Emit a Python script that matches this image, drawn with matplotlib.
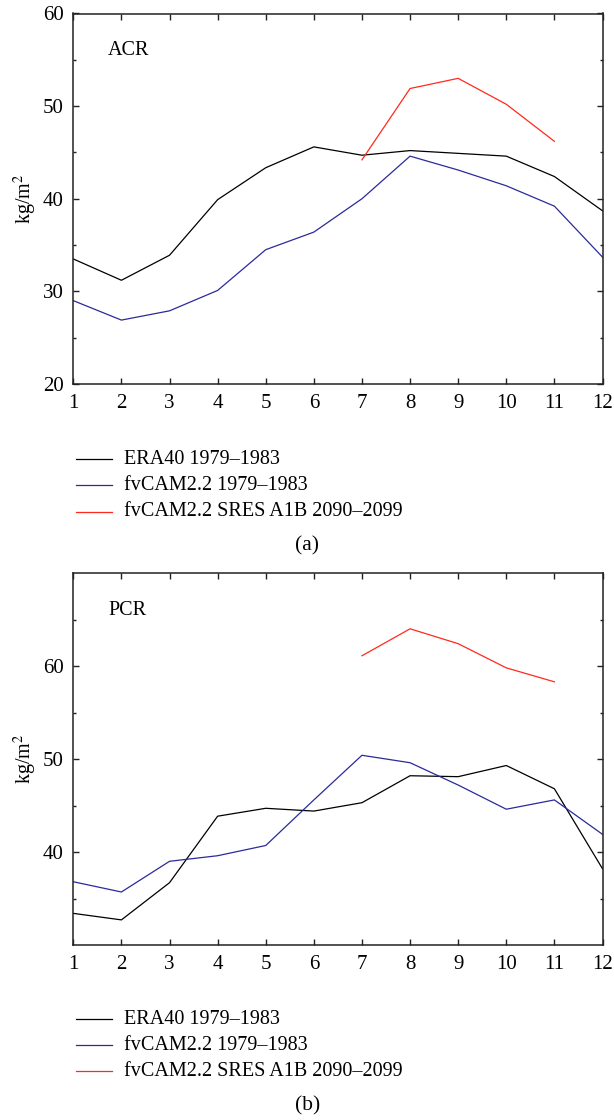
import matplotlib
matplotlib.use("Agg")
import matplotlib.pyplot as plt
from matplotlib.lines import Line2D

months = list(range(1, 13))
tick_labels = [str(m) for m in months]

acr_era40 = [33.5, 31.2, 33.9, 39.9, 43.35, 45.6, 44.7, 45.2, 44.9, 44.6, 42.4, 38.7]
acr_fvcam = [29.0, 26.9, 27.9, 30.1, 34.5, 36.4, 40.0, 44.6, 43.1, 41.4, 39.2, 33.7]
acr_sres_months = [7, 8, 9, 10, 11]
acr_sres = [44.2, 51.9, 53.0, 50.2, 46.2]

pcr_era40 = [33.4, 32.7, 36.7, 43.85, 44.7, 44.4, 45.3, 48.2, 48.1, 49.3, 46.8, 38.2]
pcr_fvcam = [36.8, 35.7, 39.0, 39.6, 40.7, 45.6, 50.4, 49.6, 47.2, 44.6, 45.6, 41.9]
pcr_sres_months = [7, 8, 9, 10, 11]
pcr_sres = [61.1, 64.0, 62.4, 59.8, 58.3]

series_names = ["ERA40 1979\u20131983", "fvCAM2.2 1979\u20131983",
                "fvCAM2.2 SRES A1B 2090\u20132099"]
colors = ["#000000", "#2a2a9c", "#ff2a1a"]

plt.rcParams['font.family'] = ['Liberation Serif', 'DejaVu Serif']
plt.rcParams['mathtext.fontset'] = 'stix'

fig = plt.figure(figsize=(6.14, 11.2), dpi=100)

W, H = 614, 1120
def axrect(l, r, t, b):
    return [l / W, 1 - b / H, (r - l) / W, (b - t) / H]

panels = [
    dict(rect=axrect(73.3, 602.5, 13.5, 384), era=acr_era40, fv=acr_fvcam,
         sm=acr_sres_months, sr=acr_sres, ylim=(20, 60), major=[20, 30, 40, 50, 60],
         minor=[25, 35, 45, 55], name="ACR", leg_y=[459, 485, 512], cap="(a)", cap_y=546),
    dict(rect=axrect(73.3, 602.5, 573, 945), era=pcr_era40, fv=pcr_fvcam,
         sm=pcr_sres_months, sr=pcr_sres, ylim=(30, 70), major=[40, 50, 60],
         minor=[35, 45, 55, 65], name="PCR", leg_y=[1019, 1045, 1071], cap="(b)", cap_y=1106),
]

for p in panels:
    ax = fig.add_axes(p["rect"])
    ax.plot(months, p["era"], color=colors[0], lw=0.9)
    ax.plot(months, p["fv"], color=colors[1], lw=0.9)
    ax.plot(p["sm"], p["sr"], color=colors[2], lw=0.9)
    ax.set_xlim(1, 12)
    ax.set_ylim(*p["ylim"])
    ax.set_xticks(months)
    ax.set_xticklabels(tick_labels)
    ax.set_yticks(p["major"])
    ax.set_yticks(p["minor"], minor=True)
    ax.tick_params(which='both', direction='in', top=True, right=True,
                   labelsize=15, width=1.0, color='#222222')
    ax.tick_params(which='major', length=4, pad=7)
    ax.tick_params(which='minor', length=2)
    for s in ax.spines.values():
        s.set_linewidth(1.1)
        s.set_color('#222222')
    ax.set_ylabel("kg/m$^2$", fontsize=14.5, labelpad=3)
    ax.text(0.066, 0.9, p["name"], transform=ax.transAxes, fontsize=14.5,
            ha='left', va='center')
    # legend below axes
    for yy, nm, c in zip(p["leg_y"], series_names, colors):
        fy = 1 - yy / H
        fig.add_artist(Line2D([76 / W, 112 / W], [fy, fy], color=c, lw=0.9,
                              transform=fig.transFigure))
        fig.text(124 / W, fy, nm, fontsize=14.5, ha='left', va='center')
    fig.text(307.5 / W, 1 - p["cap_y"] / H, p["cap"], fontsize=15.5, ha='center', va='center')

fig.savefig("out.png", dpi=100)
